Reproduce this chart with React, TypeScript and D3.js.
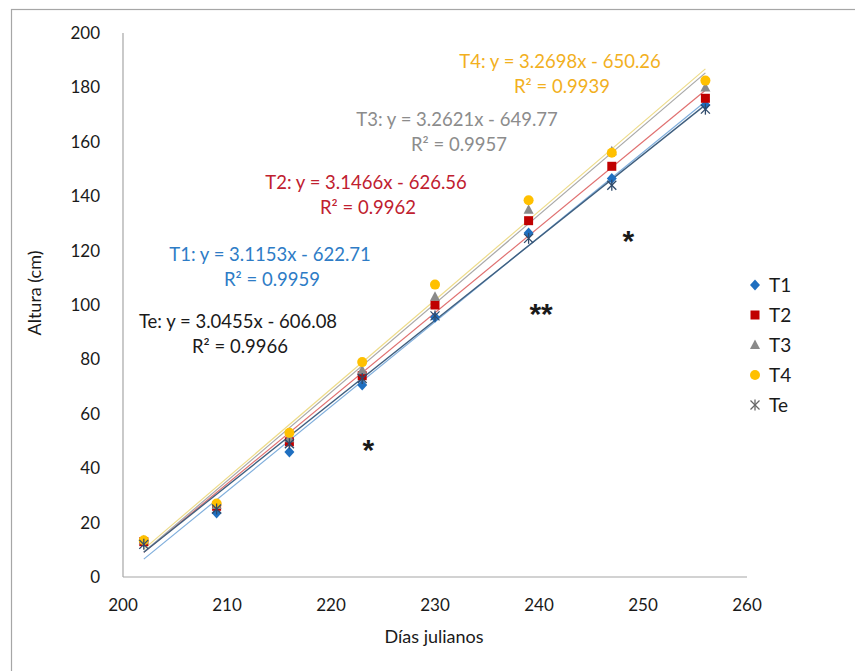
import React from "react";
import * as d3 from "d3";

const days = [202, 209, 216, 223, 230, 239, 247, 256];
const t1 = [13, 23.5, 46, 70.6, 95.5, 126.5, 146.5, 173.5];
const t2 = [13, 26, 49.7, 74, 100, 131, 151, 176];
const t3 = [13.5, 26.5, 51, 76, 103, 135, 156.5, 180];
const t4 = [13.5, 27, 53, 79, 107.5, 138.5, 156, 182.5];
const te = [12, 25, 49, 73, 96, 124.5, 144, 172];

const seriesNames = ["T1", "T2", "T3", "T4", "Te"];
const slopes = [3.1153, 3.1466, 3.2621, 3.2698, 3.0455];
const intercepts = [-622.71, -626.56, -649.77, -650.26, -606.08];
const r2Labels = ["0.9959", "0.9962", "0.9957", "0.9939", "0.9966"];

const xTicks = [200, 210, 220, 230, 240, 250, 260];
const yTicks = [0, 20, 40, 60, 80, 100, 120, 140, 160, 180, 200];

const starDays = [223.6, 240.2, 248.6];
const starVals = [47.8, 97.8, 125];
const starTexts = ["*", "**", "*"];

const markerColors = ["#1F6FC0", "#C00000", "#8A8A8A", "#FFC000", "#2F4A6A"];
const lineColors = ["#7FAEDC", "#E07070", "#A8A8A8", "#EEDC8A", "#3F5F7F"];
const textColors = ["#2E7CC6", "#C0202F", "#8C8C8C", "#F2B01E", "#1A1A1A"];
// pixel centers for equation labels (layout)
const labelPos = [
  { x: 270, y: 255 },
  { x: 366, y: 183 },
  { x: 457, y: 120 },
  { x: 560, y: 62 },
  { x: 238, y: 322 },
];

const FONT = "Lato, 'Open Sans', sans-serif";

function Marker({ kind, x, y, color }: { kind: number; x: number; y: number; color: string }) {
  const s = 5;
  if (kind === 0)
    return <path d={`M${x},${y - s - 0.5}L${x + s},${y}L${x},${y + s + 0.5}L${x - s},${y}Z`} fill={color} />;
  if (kind === 1) return <rect x={x - 4.5} y={y - 4.5} width={9} height={9} fill={color} />;
  if (kind === 2)
    return <path d={`M${x},${y - 5.5}L${x + 5},${y + 4}L${x - 5},${y + 4}Z`} fill={color} />;
  if (kind === 3) return <circle cx={x} cy={y} r={5} fill={color} />;
  return (
    <g stroke={color} strokeWidth={1.3}>
      <line x1={x} y1={y - 5.5} x2={x} y2={y + 5.5} />
      <line x1={x - 4.5} y1={y - 4.5} x2={x + 4.5} y2={y + 4.5} />
      <line x1={x - 4.5} y1={y + 4.5} x2={x + 4.5} y2={y - 4.5} />
    </g>
  );
}

export default function App() {
  const x = d3.scaleLinear().domain([200, 260]).range([123, 747]);
  const y = d3.scaleLinear().domain([0, 200]).range([577, 33]);
  const all = [t1, t2, t3, t4, te];

  return (
    <svg
      width={855}
      height={671}
      style={{ position: "absolute", left: 0, top: 0, background: "#fff" }}
      fontFamily={FONT}
    >
      <rect x={11.5} y={9.5} width={900} height={700} fill="#fff" stroke="#A6A6A6" strokeWidth={1.2} />
      {/* axes */}
      <line x1={123} y1={y(200)} x2={123} y2={y(0)} stroke="#A6A6A6" strokeWidth={1.2} />
      <line x1={123} y1={y(0)} x2={x(260)} y2={y(0)} stroke="#A6A6A6" strokeWidth={1.2} />
      {yTicks.map((t) => (
        <text key={t} x={100} y={y(t)} dy="0.35em" textAnchor="end" fontSize={17} fill="#1a1a1a">
          {t}
        </text>
      ))}
      {xTicks.map((t) => (
        <text key={t} x={x(t)} y={605} dy="0.35em" textAnchor="middle" fontSize={17} fill="#1a1a1a">
          {t}
        </text>
      ))}
      <text x={434} y={637} dy="0.35em" textAnchor="middle" fontSize={18} fill="#1a1a1a">
        Días julianos
      </text>
      <text
        transform={`translate(35,${293}) rotate(-90)`}
        dy="0.35em"
        textAnchor="middle"
        fontSize={18}
        fill="#1a1a1a"
      >
        Altura (cm)
      </text>
      {/* trend lines */}
      {seriesNames.map((n, i) => {
        const pts: [number, number][] = [202, 256].map((d) => [x(d), y(slopes[i] * d + intercepts[i])]);
        return (
          <path
            key={n}
            d={d3.line()(pts) ?? ""}
            stroke={lineColors[i]}
            strokeWidth={i === 4 ? 1.4 : 1.2}
            fill="none"
          />
        );
      })}
      {/* markers */}
      {all.map((s, i) =>
        s.map((v, j) => <Marker key={`${i}-${j}`} kind={i} x={x(days[j])} y={y(v)} color={markerColors[i]} />)
      )}
      {/* equation labels */}
      {seriesNames.map((n, i) => (
        <g key={n} fill={textColors[i]} fontSize={18.5} textAnchor="middle">
          <text x={labelPos[i].x} y={labelPos[i].y} dy="0.35em">
            {`${n}: y = ${slopes[i].toFixed(4)}x - ${Math.abs(intercepts[i]).toFixed(2)}`}
          </text>
          <text x={labelPos[i].x + 2} y={labelPos[i].y + 25} dy="0.35em">
            {`R² = ${r2Labels[i]}`}
          </text>
        </g>
      ))}
      {/* significance stars */}
      {starTexts.map((s, i) => (
        <text
          key={i}
          x={x(starDays[i])}
          y={y(starVals[i])}
          dy="0.45em"
          textAnchor="middle"
          fontSize={30}
          fontWeight="bold"
          fontFamily="'Liberation Sans', Arial, sans-serif"
          fill="#1a1a1a"
        >
          {s}
        </text>
      ))}
      {/* legend */}
      {seriesNames.map((n, i) => (
        <g key={n}>
          <Marker kind={i} x={755} y={285 + i * 30} color={i === 4 ? "#666" : markerColors[i]} />
          <text x={769} y={285 + i * 30} dy="0.35em" fontSize={19} fill="#1a1a1a">
            {n}
          </text>
        </g>
      ))}
    </svg>
  );
}
